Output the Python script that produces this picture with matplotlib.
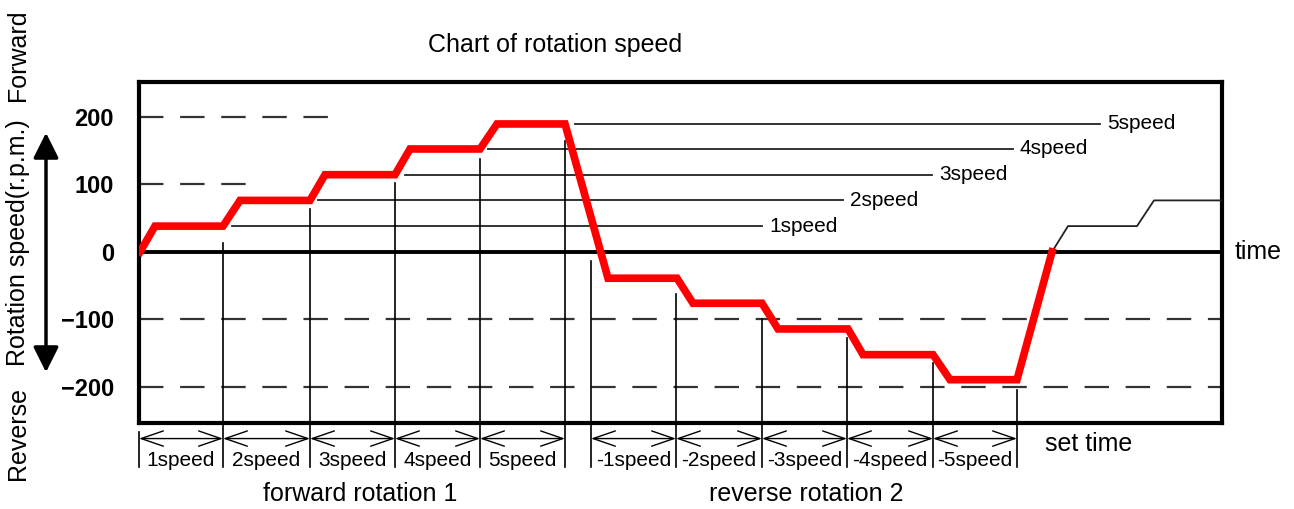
import matplotlib
matplotlib.use("Agg")
import matplotlib.pyplot as plt

# ---------------- data ----------------
# speed profile (time in arbitrary units, speed in r.p.m.)
profile_t = [1, 16, 84, 101, 171, 186, 256, 271, 341, 358, 426,
             469, 538, 554, 623, 639, 709, 724, 794, 811, 878, 913]
profile_v = [0, 38, 38, 76, 76, 114, 114, 152, 152, 189, 189,
             -39, -39, -76, -76, -114, -114, -152, -152, -189, -189, 0]
# repeat of the cycle (thin line)
repeat_t = [913, 929, 998, 1015, 1085]
repeat_v = [0, 38, 38, 76, 76]

# reference lines for speed levels
level_labels = ["1speed", "2speed", "3speed", "4speed", "5speed"]
level_values = [38, 76, 114, 152, 189]
level_start = [93, 179, 266, 349, 436]
level_end = [623, 704, 793, 874, 961]

# segment boundaries (set time)
fwd_bounds = [0, 84, 171, 256, 341, 426]
rev_bounds = [452, 537, 623, 708, 794, 878]
fwd_vtop = [13, 63, 102, 137, 164]
rev_vtop = [-13, -63, -100, -127, -164, -204]
fwd_seg_labels = ["1speed", "2speed", "3speed", "4speed", "5speed"]
rev_seg_labels = ["-1speed", "-2speed", "-3speed", "-4speed", "-5speed"]

yticks = [200, 100, 0, -100, -200]
ytick_labels = ["200", "100", "0", "\u2212100", "\u2212200"]

# dashed guide lines: (y, x_end)
dash_y = [200, 100, -100, -200]
dash_end = [191, 111, 1085, 1085]

# ---------------- figure ----------------
W, H = 1294, 509
fig = plt.figure(figsize=(W / 100, H / 100), dpi=100)
ax = fig.add_axes([139 / W, 1 - 423 / H, (1222 - 139) / W, (423 - 82) / H])
ax.set_xlim(0, 1083)
ax.set_ylim(-253, 251)

FONT = "Liberation Sans"
BIG = 18
SMALL = 15

for sp in ax.spines.values():
    sp.set_linewidth(3)
    sp.set_color("black")

ax.set_xticks([])
ax.set_yticks(yticks)
ax.set_yticklabels(ytick_labels, fontsize=17, fontweight="bold", family=FONT)
ax.tick_params(axis="y", length=0, pad=18)

# dashed guides
for y, xe in zip(dash_y, dash_end):
    ax.plot([0, xe], [y, y], color="#333333", lw=1.6, dashes=(11, 7.5))

# zero line
ax.axhline(0, color="black", lw=2.8, zorder=3)

# level reference lines + labels
for lab, v, xs, xe in zip(level_labels, level_values, level_start, level_end):
    ax.plot([xs, xe], [v, v], color="#222222", lw=1.3, zorder=2)
    ax.text(xe + 7, v, lab, fontsize=SMALL, family=FONT, va="center", ha="left")

# red profile
ax.plot(profile_t, profile_v, color="#ff0000", lw=5.5, solid_joinstyle="miter", zorder=5)
ax.plot(repeat_t, repeat_v, color="#222222", lw=1.3, zorder=4)

# vertical boundary lines (extend below the axes)
y_tick_top = -266
y_bottom = -318
y_arrow = -276
for x, top in zip(fwd_bounds[1:], fwd_vtop):
    ax.plot([x, x], [top, y_bottom], color="black", lw=1.2, clip_on=False, zorder=2)
for x, top in zip(rev_bounds, rev_vtop):
    ax.plot([x, x], [top, y_bottom], color="black", lw=1.2, clip_on=False, zorder=2)
ax.plot([0, 0], [y_tick_top, y_bottom], color="black", lw=1.2, clip_on=False)

# dimension arrows + labels
def seg(bounds, labels):
    for i, lab in enumerate(labels):
        x0, x1 = bounds[i], bounds[i + 1]
        ax.annotate("", xy=(x0, y_arrow), xytext=(x1, y_arrow),
                    arrowprops=dict(arrowstyle="<->,head_length=1.6,head_width=0.55",
                                    lw=1.0, color="black", shrinkA=0, shrinkB=0,
                                    mutation_scale=10),
                    annotation_clip=False)
        ax.text((x0 + x1) / 2, -309, lab, fontsize=SMALL, family=FONT,
                ha="center", va="center", clip_on=False)

seg(fwd_bounds, fwd_seg_labels)
seg(rev_bounds, rev_seg_labels)

ax.text(221, -358, "forward rotation 1", fontsize=BIG, family=FONT,
        ha="center", va="center", clip_on=False)
ax.text(667, -358, "reverse rotation 2", fontsize=BIG, family=FONT,
        ha="center", va="center", clip_on=False)
ax.text(906, -284, "set time", fontsize=BIG, family=FONT,
        ha="left", va="center", clip_on=False)
ax.text(1096, 0, "time", fontsize=BIG, family=FONT,
        ha="left", va="center", clip_on=False)

# title
fig.text(555 / W, 1 - 45 / H, "Chart of rotation speed", fontsize=BIG, family=FONT,
         ha="center", va="center")

# rotated y-axis caption pieces
fig.text(18 / W, 1 - 55 / H, "Forward", rotation=90, fontsize=BIG, family=FONT,
         ha="center", va="center")
fig.text(18 / W, 1 - 243 / H, "Rotation speed(r.p.m.)", rotation=90, fontsize=BIG,
         family=FONT, ha="center", va="center")
fig.text(18 / W, 1 - 433 / H, "Reverse", rotation=90, fontsize=BIG, family=FONT,
         ha="center", va="center")

# double arrow
fig.patches.append(matplotlib.patches.FancyArrowPatch(
    (46 / W, 1 - 375 / H), (46 / W, 1 - 130 / H), transform=fig.transFigure,
    arrowstyle="<|-|>,head_length=7,head_width=3.5", lw=2.5, color="black",
    mutation_scale=2.2))

fig.savefig("out.png", dpi=100)
